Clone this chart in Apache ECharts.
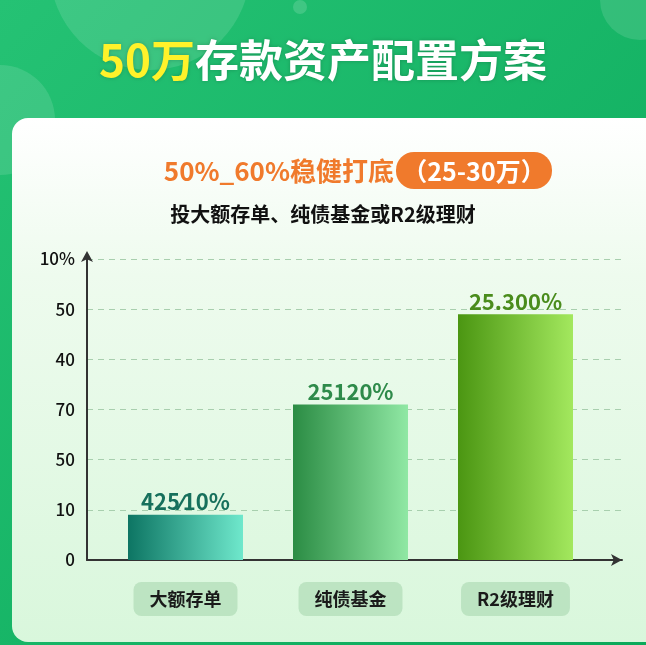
<!DOCTYPE html>
<html><head><meta charset="utf-8">
<script src="https://cdn.jsdelivr.net/npm/echarts@6/dist/echarts.min.js"></script>
<style>html,body{margin:0;padding:0;}#c{width:646px;height:645px;}</style>
</head><body><div id="c"></div>
<script>
const categories = ['大额存单', '纯债基金', 'R2级理财'];
const values = [0.9, 3.1, 4.9];
const valueLabels = ['425⁄10%', '25120%', '25.300%'];
const tickLabels = ['0', '10', '50', '70', '40', '50', '10%'];

const F = '"Noto Sans CJK SC","Noto Sans",sans-serif';
const barColors = [['#0d7563', '#6fe8cc'], ['#2b8c44', '#90e8a4'], ['#4b9612', '#a3e85e']];
const labelColors = ['#16705c', '#2e8a4a', '#4a8c1c'];
const chart = echarts.init(document.getElementById('c'));
chart.setOption({
  backgroundColor: new echarts.graphic.LinearGradient(0, 0, 1, 1, [{offset: 0, color: '#25c274'}, {offset: 1, color: '#0aa95a'}]),
  graphic: [
    {type: 'circle', shape: {cx: 150, cy: -30, r: 100}, style: {fill: 'rgba(255,255,255,0.12)'}, silent: true},
    {type: 'circle', shape: {cx: 640, cy: 0, r: 40}, style: {fill: 'rgba(255,255,255,0.12)'}, silent: true},
    {type: 'circle', shape: {cx: 300, cy: 7, r: 7}, style: {fill: 'rgba(255,255,255,0.15)'}, silent: true},
    {type: 'circle', shape: {cx: 0, cy: 120, r: 55}, style: {fill: 'rgba(255,255,255,0.12)'}, silent: true},
    {type: 'rect', shape: {x: 12, y: 118, width: 660, height: 524, r: 16}, silent: true,
      style: {fill: new echarts.graphic.LinearGradient(0, 0, 0, 1, [{offset: 0, color: '#ffffff'}, {offset: 0.3, color: '#eefbee'}, {offset: 1, color: '#d9f7dc'}])}},
    {type: 'text', x: 323, y: 60, silent: true, style: {text: '{y|50万}{w|存款资产配置方案}', align: 'center', verticalAlign: 'middle',
      rich: {y: {fontSize: 44, fontWeight: 'bold', fill: '#fff22a', fontFamily: F, textShadowColor: 'rgba(0,0,0,0.2)', textShadowBlur: 4},
             w: {fontSize: 44, fontWeight: 'bold', fill: '#ffffff', fontFamily: F, textShadowColor: 'rgba(0,0,0,0.2)', textShadowBlur: 4}}}},
    {type: 'rect', shape: {x: 396, y: 152, width: 156, height: 37, r: 18}, style: {fill: '#f07a2c'}, silent: true},
    {type: 'text', x: 394, y: 171, silent: true, style: {text: '50%_60%稳健打底', align: 'right', verticalAlign: 'middle', fontSize: 26, fontWeight: 'bold', fill: '#f07a2c', fontFamily: F}},
    {type: 'text', x: 474, y: 171, silent: true, style: {text: '（25-30万）', align: 'center', verticalAlign: 'middle', fontSize: 25, fontWeight: 'bold', fill: '#ffffff', fontFamily: F}},
    {type: 'text', x: 323, y: 214, silent: true, style: {text: '投大额存单、纯债基金或R2级理财', align: 'center', verticalAlign: 'middle', fontSize: 20, fontWeight: 'bold', fill: '#111', fontFamily: F}}
  ],
  grid: [
    {left: 103, right: 48, top: 259, bottom: 85},
    {left: 87, right: 24, top: 259, bottom: 85}
  ],
  xAxis: [
    {type: 'category', gridIndex: 0, data: categories, axisLine: {show: false}, axisTick: {show: false},
      axisLabel: {margin: 22, fontSize: 18, fontWeight: 'bold', color: '#1a1a1a', fontFamily: F,
        backgroundColor: 'rgba(150,205,160,0.45)', borderRadius: 8, padding: [8, 16, 8, 16]}},
    {type: 'category', gridIndex: 1, data: [''], axisTick: {show: false}, axisLabel: {show: false},
      axisLine: {lineStyle: {color: '#333', width: 2}, symbol: ['none', 'arrow'], symbolSize: [9, 11]}}
  ],
  yAxis: [
    {type: 'value', gridIndex: 0, min: 0, max: 6, interval: 1, show: false},
    {type: 'value', gridIndex: 1, min: 0, max: 6, interval: 1,
      axisLine: {show: true, lineStyle: {color: '#333', width: 2}, symbol: ['none', 'arrow'], symbolSize: [9, 11], symbolOffset: [0, 8]},
      axisTick: {show: false},
      splitLine: {lineStyle: {color: '#a8cfae', type: [6, 5], width: 1}},
      axisLabel: {margin: 12, fontSize: 17, color: '#111', fontFamily: F, fontWeight: 500, formatter: (v) => tickLabels[v]}}
  ],
  series: [{
    type: 'bar', xAxisIndex: 0, yAxisIndex: 0, barWidth: 115,
    data: values.map((v, i) => ({value: v,
      itemStyle: {color: new echarts.graphic.LinearGradient(0, 0, 1, 0, [{offset: 0, color: barColors[i][0]}, {offset: 1, color: barColors[i][1]}])},
      label: {color: labelColors[i]}})),
    label: {show: true, position: 'top', distance: 2, fontSize: 22, fontWeight: 'bold', fontFamily: F,
      formatter: (p) => valueLabels[p.dataIndex]}
  }]
});
</script></body></html>
